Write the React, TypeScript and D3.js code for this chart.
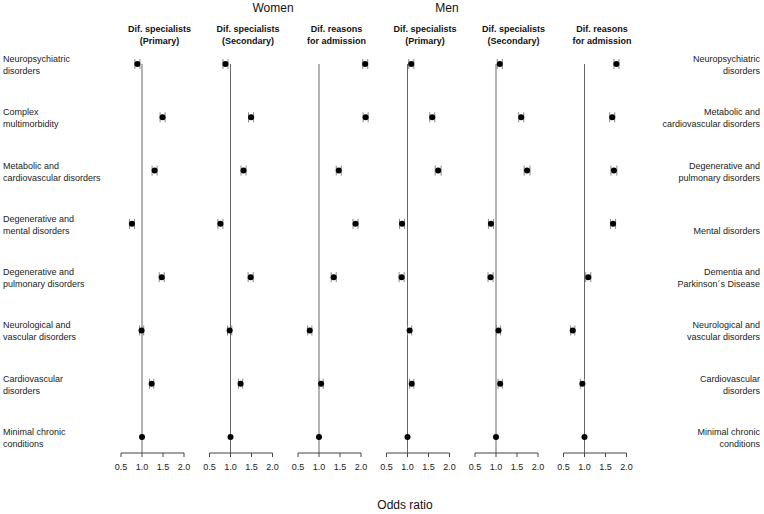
import React from 'react';
import * as d3 from 'd3';

// row labels (left = women clusters, right = men clusters)
const womenRows = [
  ['Neuropsychiatric', 'disorders'],
  ['Complex', 'multimorbidity'],
  ['Metabolic and', 'cardiovascular disorders'],
  ['Degenerative and', 'mental disorders'],
  ['Degenerative and', 'pulmonary disorders'],
  ['Neurological and', 'vascular disorders'],
  ['Cardiovascular', 'disorders'],
  ['Minimal chronic', 'conditions'],
];
const menRows = [
  ['Neuropsychiatric', 'disorders'],
  ['Metabolic and', 'cardiovascular disorders'],
  ['Degenerative and', 'pulmonary disorders'],
  ['Mental disorders'],
  ['Dementia and', 'Parkinson\u00b4s Disease'],
  ['Neurological and', 'vascular disorders'],
  ['Cardiovascular', 'disorders'],
  ['Minimal chronic', 'conditions'],
];

const panelTitles = [
  ['Dif. specialists', '(Primary)'],
  ['Dif. specialists', '(Secondary)'],
  ['Dif. reasons', 'for admission'],
  ['Dif. specialists', '(Primary)'],
  ['Dif. specialists', '(Secondary)'],
  ['Dif. reasons', 'for admission'],
];

const ticks = [0.5, 1.0, 1.5, 2.0];

// odds ratios per panel, rows top to bottom (last row = reference)
const womenPrimary = [0.89, 1.49, 1.30, 0.76, 1.47, 0.99, 1.23, 1.0];
const womenSecondary = [0.88, 1.49, 1.31, 0.76, 1.48, 0.98, 1.24, 1.0];
const womenAdmission = [2.10, 2.11, 1.47, 1.87, 1.35, 0.78, 1.05, 1.0];
const menPrimary = [1.09, 1.59, 1.73, 0.87, 0.86, 1.05, 1.10, 1.0];
const menSecondary = [1.09, 1.60, 1.74, 0.88, 0.87, 1.06, 1.10, 1.0];
const menAdmission = [1.76, 1.66, 1.70, 1.68, 1.09, 0.72, 0.95, 1.0];

// half width of the 95% CI
const womenCI = [0.06, 0.06, 0.06, 0.06, 0.06, 0.05, 0.05, 0];
const menCI = [0.06, 0.06, 0.07, 0.06, 0.06, 0.05, 0.05, 0];

const panels = [womenPrimary, womenSecondary, womenAdmission, menPrimary, menSecondary, menAdmission];
const cis = [womenCI, womenCI, womenCI, menCI, menCI, menCI];

const W = 764, H = 514;
const font = '"Liberation Sans", Arial, sans-serif';

function RowLabel({ lines, x, y, anchor }: { lines: string[]; x: number; y: number; anchor: string }) {
  return (
    <text x={x} y={y} fontSize={9} fill="#222" textAnchor={anchor}>
      {lines.map((t, k) => (
        <tspan key={k} x={x} dy={k === 0 ? (lines.length === 1 ? 10 : -2) : 12}>{t}</tspan>
      ))}
    </text>
  );
}

export default function App() {
  const y = d3.scalePoint<number>().domain(d3.range(8)).range([64, 437]);
  const axisY = 453;

  const panelX = (i: number) =>
    d3.scaleLinear().domain([0.5, 2.0]).range([121 + i * 88.5, 184 + i * 88.5]);

  return (
    <svg width={W} height={H} style={{ position: 'absolute', left: 0, top: 0, background: '#fff' }} fontFamily={font}>
      <text x={273} y={12} fontSize={12} textAnchor="middle" fill="#111">Women</text>
      <text x={447} y={12} fontSize={12} textAnchor="middle" fill="#111">Men</text>

      {womenRows.map((lines, r) => (
        <RowLabel key={'l' + r} lines={lines} x={3} y={y(r)!} anchor="start" />
      ))}
      {menRows.map((lines, r) => (
        <RowLabel key={'r' + r} lines={lines} x={760} y={y(r)!} anchor="end" />
      ))}

      {panels.map((vals, i) => {
        const x = panelX(i);
        const ci = cis[i];
        const cx = (x.range()[0] + x.range()[1]) / 2 + 7;
        return (
          <g key={i}>
            <text x={cx} y={32} fontSize={9} fontWeight="bold" textAnchor="middle" fill="#111">{panelTitles[i][0]}</text>
            <text x={cx} y={44} fontSize={9} fontWeight="bold" textAnchor="middle" fill="#111">{panelTitles[i][1]}</text>
            <line x1={x(1)} x2={x(1)} y1={y(0)} y2={axisY} stroke="#666" strokeWidth={1} />
            <line x1={x(0.5)} x2={x(2.0)} y1={axisY} y2={axisY} stroke="#444" />
            {ticks.map(t => (
              <g key={t}>
                <line x1={x(t)} x2={x(t)} y1={axisY} y2={axisY + 4} stroke="#444" />
                <text x={x(t)} y={470} fontSize={9} textAnchor="middle" fill="#222">{d3.format('.1f')(t)}</text>
              </g>
            ))}
            {vals.map((v, r) => (
              <g key={r}>
                {ci[r] > 0 && (
                  <>
                    <line x1={x(v - ci[r])} x2={x(v + ci[r])} y1={y(r)} y2={y(r)} stroke="#777" />
                    <line x1={x(v - ci[r])} x2={x(v - ci[r])} y1={y(r)! - 5} y2={y(r)! + 5} stroke="#888" />
                    <line x1={x(v + ci[r])} x2={x(v + ci[r])} y1={y(r)! - 5} y2={y(r)! + 5} stroke="#888" />
                  </>
                )}
                <circle cx={x(v)} cy={y(r)} r={3} fill="#000" />
              </g>
            ))}
          </g>
        );
      })}

      <text x={405} y={509} fontSize={12} textAnchor="middle" fill="#111">Odds ratio</text>
    </svg>
  );
}
